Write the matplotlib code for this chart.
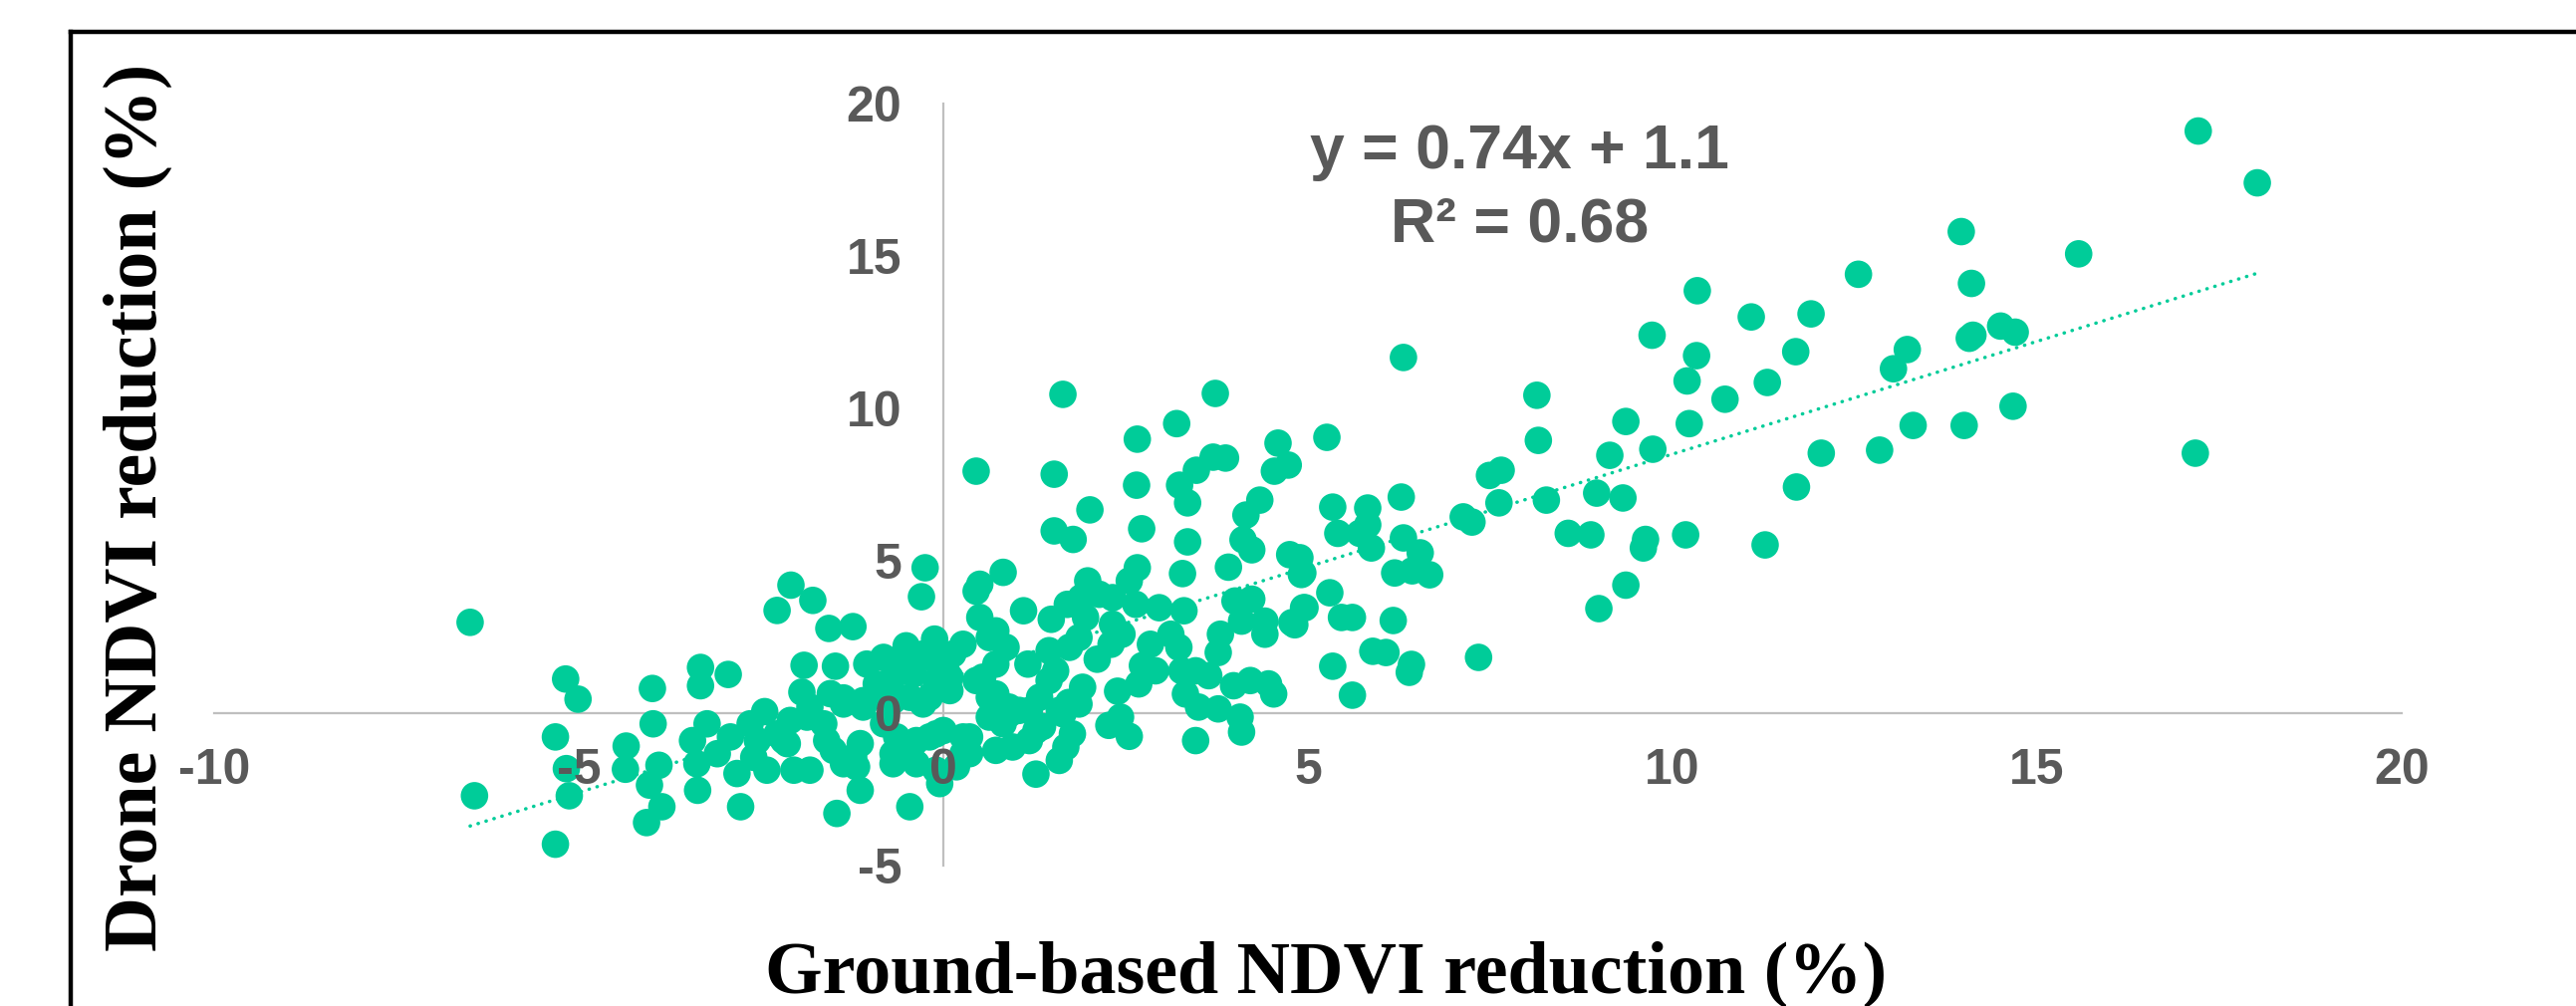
import matplotlib
matplotlib.use("Agg")
import matplotlib.pyplot as plt
from matplotlib.lines import Line2D
import numpy as np

# ---------------- data ----------------
ground_right = [17.21, 18.02, 15.57, 14.5, 14.7, 14.67, 17.17, 13.96, 14.1, 12.55, 10.34, 11.08, 11.9,
                9.72, 10.33, 11.69, 13.22, 13.03, 14.07, 14.12, 10.2, 11.3, 10.72, 9.36, 10.23, 9.14,
                9.73, 12.04, 12.84, 13.3, 14.0, 11.7, 8.96, 9.32, 8.88, 9.63, 9.6, 10.18, 11.27, 9.36, 8.99]
drone_right = [19.1, 17.4, 15.07, 12.7, 12.5, 10.07, 8.53, 15.8, 14.1, 14.4, 13.86, 13.0, 13.1,
               12.4, 11.73, 11.86, 11.93, 11.3, 12.3, 12.4, 10.9, 10.85, 10.3, 9.57, 9.5, 8.46,
               8.66, 8.53, 8.63, 9.44, 9.44, 7.42, 7.22, 7.06, 5.85, 5.7, 5.42, 5.85, 5.52, 4.2, 3.43]

ground_mid = [6.31, 8.14, 8.16, 5.26, 7.49, 7.65, 7.62, 8.27, 7.13, 7.25, 6.28, 5.34, 5.82, 5.82,
              5.41, 5.71, 5.87, 6.31, 6.54, 8.57,
              6.67, 6.19, 6.43, 4.89, 4.93, 5.3, 4.96, 4.82, 5.46, 5.61, 6.17, 5.89, 6.07, 6.42,
              6.39, 5.34, 5.61, 7.34,
              1.64, 3.73, 3.2, 2.66, 1.52, 2.65, 2.01, 1.52, 1.78, 2.72, 3.35, 4.59, 4.73, 4.54,
              3.7, 3.87, 3.47, 3.24, 3.35, 4.34, 4.15, 4.11, 4.23, 4.75, 0.45]
drone_mid = [11.67, 10.43, 8.95, 9.05, 7.8, 7.97, 6.9, 6.99, 6.44, 6.27, 7.09, 6.76, 6.73, 6.18,
             5.9, 5.9, 5.42, 5.75, 5.26, 5.9,
             4.54, 4.6, 4.67, 5.1, 4.6, 3.95, 3.46, 2.9, 3.14, 3.14, 3.04, 2.03, 1.99, 1.6,
             1.34, 1.54, 0.59, 1.83,
             10.46, 10.49, 9.5, 8.99, 7.84, 7.48, 6.67, 5.98, 5.7, 6.05, 5.62, 8.86, 8.14, 7.94,
             8.4, 8.37, 7.97, 7.48, 6.9, 6.99, 6.5, 5.69, 5.36, 5.2, 7.94]

ground_c1 = [0.82, 3.28, 3.91, 4.91, 2.66, 2.55, 1.98, 2.14, 1.1, 1.48, 1.7, 1.89, 1.95, 2.32, 2.64,
             2.96, 3.3, 4.0, 4.23, 4.09, 4.41, 4.41, 4.78, 4.94, 2.32, 2.45, 1.86, 1.73, 1.45, 0.86,
             0.72, 2.11, 2.3, 2.84, 3.12, 3.23, 3.8, 3.77, 2.73, 2.91, 3.27, 3.46, 3.64, 3.98, 4.21,
             4.53, 4.46, 2.68, 2.39, 1.91, 1.54, 1.45, 1.16, 0.72, 3.32, 3.5, 3.77, 4.07, 4.09, 3.46,
             2.27, 2.43, 2.55, 1.86, 1.64, 1.77, 1.68, 1.59, 1.27, 1.27, 0.95, 0.82, 1.04, 1.32]
drone_c1 = [4.62, 4.58, 4.79, 4.55, 4.77, 4.34, 4.34, 3.9, 3.36, 3.08, 3.57, 3.79, 3.14, 3.79, 3.57,
            3.46, 3.36, 3.68, 3.74, 3.02, 3.02, 2.59, 2.97, 3.46, 2.92, 2.59, 2.48, 2.16, 2.05, 2.16,
            2.7, 1.77, 2.26, 2.26, 2.59, 2.16, 2.59, 1.99, 1.56, 1.39, 1.39, 1.39, 1.23, 0.9, 1.07,
            0.63, 0.96, 0.96, 0.72, 0.85, 1.39, 1.07, 1.61, 0.63, 0.63, 0.2, 0.14, -0.13, -0.62, -0.9,
            -0.4, -0.13, -0.76, 0.3, -0.02, -0.68, -1.11, -1.55, -2.0, -0.57, -1.11, -0.35, 0.09, 0.52]

ground_c2 = [-0.25, -0.3, -2.09, -2.28, -1.79, -1.57, -1.24, -3.33, -3.33, -2.95, -1.91, -1.48, -1.94,
             -1.05, -0.82, -0.51, -0.12, -0.1, -0.41, -0.92, -0.69, -1.1, -0.46, -0.19, -0.1, 0.09,
             0.27, 0.5, 0.5, 0.63, 0.72, 0.54, 0.63, 0.63, 0.91, 0.72, 0.27, 0.36, 0.18, -0.1, -0.05,
             -0.69, -0.41, -0.82, -1.14, -1.19, -1.14, -1.46, -0.46, -1.51, -1.37, -1.64, -1.87, -2.1,
             -2.14, -2.05, -1.83, -2.28, -2.55, -2.42, -2.83, -2.78, -2.92, -3.1, -3.24, -3.37, -1.37,
             -1.55, -1.83, -0.82, -0.64, -0.19, 0.0, 0.36, 0.04, 0.13, -0.55, -0.28]
drone_c2 = [4.77, 3.82, 4.2, 3.37, 3.7, 2.78, 2.84, 1.5, 0.9, 1.27, 1.57, 1.54, 0.69,
            1.61, 1.83, 2.21, 2.43, 1.72, 1.28, 0.96, 1.18, 0.41, 0.52, 0.52, 1.07, 0.74,
            2.26, 3.14, 4.23, 2.48, 1.61, 1.18, 0.52, -0.13, -0.02, -1.22, -0.78, -1.33, -1.76, -1.87, -2.31,
            -1.66, -1.0, -0.35, -1.0, -1.76, -2.53, -3.29, -3.07, -1.22, -1.66, -0.35, -0.13, -0.24,
            -1.0, -1.87, -1.87, -0.68, -0.9, -1.87, -1.98, -3.07, -0.78, -1.33, -0.35, -2.53, 0.3,
            0.64, 0.2, 0.52, -0.78, -0.78, -0.57, -0.78, 1.39, 1.94, 1.72, 1.94]

ground_c3 = [0.45, 0.09, 0.45, -1.37, -1.1, -0.69, -0.28, 0.9, 1.18, 1.36, 1.59, 1.72, -1.6,
             -0.69, -0.37, -0.1, 0.27, 1.18, -2.19, -1.23, -0.37, -2.65, -2.45, -2.6]
drone_c3 = [4.0, 1.18, 1.07, 0.5, 0.2, 0.41, 0.3, 0.2, 0.09, -0.44, 0.09, 0.35, -0.9,
            -1.33, -0.9, -0.68, -1.33, -0.9, -0.9, -1.44, -1.66, -0.35, 0.05, -1.45]

ground_left = [-6.49, -6.43, -5.18, -5.01, -5.32, -5.17, -5.13, -5.32, -4.35, -4.36, -3.99, -3.98,
               -3.9, -4.03, -3.86, -4.07, -3.44, -3.38]
drone_left = [2.98, -2.71, 1.12, 0.46, -0.78, -1.82, -2.71, -4.3, -1.08, -1.84, 0.81, -0.35,
              -1.71, -2.36, -3.07, -3.59, -0.9, -1.66]

trend_slope = 0.74
trend_intercept = 1.1
x_ticks = [-10, -5, 0, 5, 10, 15, 20]
y_ticks = [-5, 0, 5, 10, 15, 20]
eq_label = "y = 0.74x + 1.1"
r2_label = "R² = 0.68"
x_title = "Ground-based NDVI reduction (%)"
y_title = "Drone NDVI reduction (%)"

ground = np.array(ground_right + ground_mid + ground_c1 + ground_c2 + ground_c3 + ground_left)
drone = np.array(drone_right + drone_mid + drone_c1 + drone_c2 + drone_c3 + drone_left)

# ---------------- styling ----------------
W, H = 2586, 1010
GREEN = "#00CC99"
GRAY = "#595959"
AXIS_GRAY = "#BFBFBF"

fig = plt.figure(figsize=(W / 100, H / 100), dpi=100)
ax = fig.add_axes([215 / W, 141 / H, 2196 / W, 765 / H])

ax.scatter(ground, drone, s=395, color=GREEN, edgecolors="none", zorder=1)

xs = np.array([ground.min(), ground.max()])
ax.plot(xs, trend_slope * xs + trend_intercept, color=GREEN, lw=2.5,
        linestyle=(0, (0.1, 2.3)), dash_capstyle="round", zorder=2)

ax.set_xlim(-10, 20)
ax.set_ylim(-5, 20)
ax.set_xticks(x_ticks)
ax.set_yticks(y_ticks)
ax.set_xticklabels([str(v) for v in x_ticks])
ax.set_yticklabels([str(v) for v in y_ticks])

for side in ("top", "right"):
    ax.spines[side].set_visible(False)
ax.spines["left"].set_position(("data", 0))
ax.spines["bottom"].set_position(("data", 0))
for side in ("left", "bottom"):
    ax.spines[side].set_color(AXIS_GRAY)
    ax.spines[side].set_linewidth(1.6)
    ax.spines[side].set_zorder(0.5)
ax.set_axisbelow(False)
ax.patch.set_visible(False)

ax.tick_params(axis="both", length=0, labelsize=36, labelcolor=GRAY)
ax.tick_params(axis="x", pad=25)
ax.tick_params(axis="y", pad=30)
for lab in ax.get_xticklabels() + ax.get_yticklabels():
    lab.set_fontfamily("Liberation Sans")
    lab.set_fontweight("bold")

ax.text(7.9, 17.88, eq_label, ha="center", va="baseline", fontsize=45,
        fontweight="bold", color=GRAY, family="Liberation Sans")
ax.text(7.9, 15.46, r2_label, ha="center", va="baseline", fontsize=45,
        fontweight="bold", color=GRAY, family="Liberation Sans")

fig.text(1331 / W, 14 / H, x_title, ha="center", va="baseline", fontsize=53.3,
         fontweight="bold", family="Liberation Serif", color="black")
fig.text(138.5 / W, 1 - 509 / H, y_title, rotation=90, ha="center", va="center",
         fontsize=54.8, fontweight="bold", family="Liberation Serif", color="black")

# outer border (cropped frame)
bx = 71 / W
by = 1 - 32 / H
fig.add_artist(Line2D([bx, bx], [0, by], transform=fig.transFigure, color="black", lw=3.2))
fig.add_artist(Line2D([bx, 1.0], [by, by], transform=fig.transFigure, color="black", lw=3.2))

fig.savefig("out.png", dpi=100)
